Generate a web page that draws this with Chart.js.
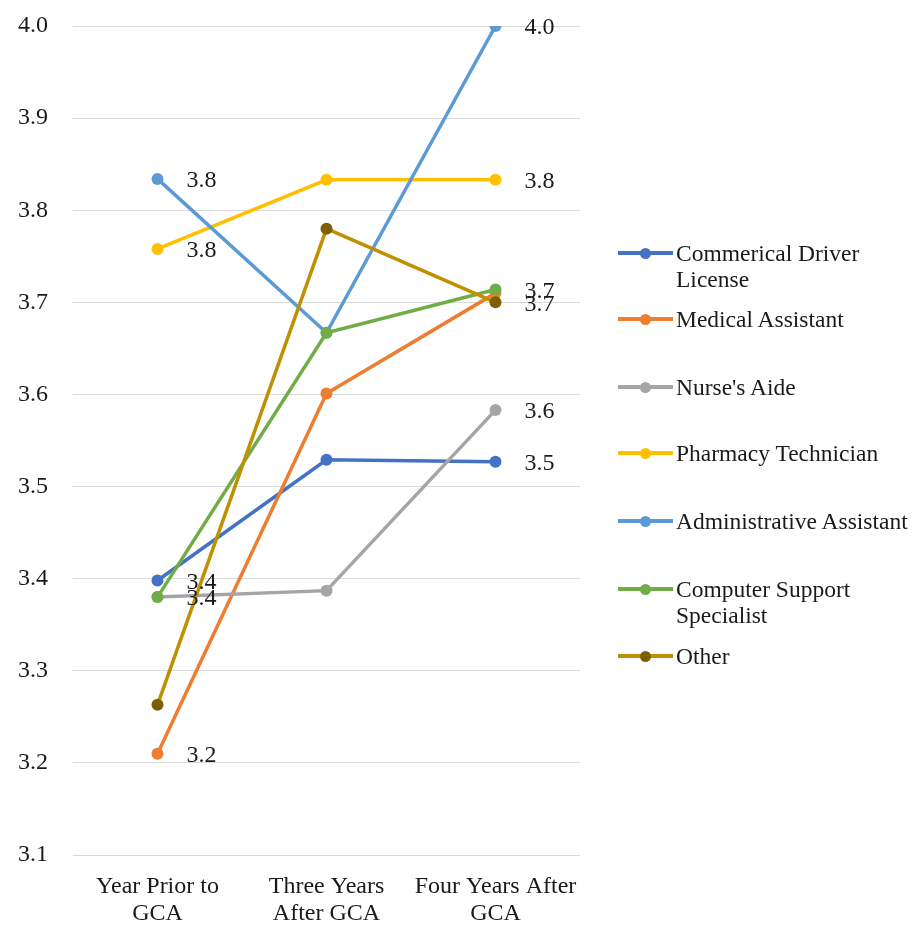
<!DOCTYPE html>
<html>
<head>
<meta charset="utf-8">
<script src="https://cdn.jsdelivr.net/npm/chart.js@4"></script>
<style>
  html, body { margin: 0; padding: 0; background: #fff; }
  #wrap { position: relative; width: 914px; height: 930px; }
  #legend { position: absolute; left: 618px; top: 0; font-family: "Liberation Serif", "Times New Roman", serif; font-size: 23.5px; color: #1a1a1a; }
  .item { position: absolute; left: 0; white-space: nowrap; }
  .sw { position: absolute; left: 0; width: 55px; height: 4px; }
  .dot { position: absolute; left: 22px; width: 11px; height: 11px; border-radius: 50%; }
  .txt { position: absolute; left: 58px; line-height: 26px; }
</style>
</head>
<body>
<div id="wrap">
  <canvas id="c" width="914" height="930"></canvas>
  <div id="legend"></div>
</div>
<script>
const categories = [["Year Prior to", "GCA"], ["Three Years", "After GCA"], ["Four Years After", "GCA"]];
const seriesNames = ["Commerical Driver License", "Medical Assistant", "Nurse's Aide", "Pharmacy Technician", "Administrative Assistant", "Computer Support Specialist", "Other"];
const legendLines = [["Commerical Driver", "License"], ["Medical Assistant"], ["Nurse's Aide"], ["Pharmacy Technician"], ["Administrative Assistant"], ["Computer Support", "Specialist"], ["Other"]];
const cdl = [3.398, 3.529, 3.527];
const medical = [3.210, 3.601, 3.710];
const nurse = [3.380, 3.387, 3.583];
const pharmacy = [3.758, 3.833, 3.833];
const admin = [3.834, 3.667, 4.000];
const computer = [3.380, 3.667, 3.714];
const other = [3.263, 3.780, 3.700];
const seriesValues = [cdl, medical, nurse, pharmacy, admin, computer, other];
const labelShown = [
  [true, false, true],
  [true, false, false],
  [false, false, true],
  [true, false, true],
  [true, false, true],
  [true, false, true],
  [false, false, true]
];
const yTicks = [3.1, 3.2, 3.3, 3.4, 3.5, 3.6, 3.7, 3.8, 3.9, 4.0];

const lineColors = ["#4472C4", "#ED7D31", "#A5A5A5", "#FFC000", "#5B9BD5", "#70AD47", "#BF9000"];
const pointColors = ["#4472C4", "#ED7D31", "#A5A5A5", "#FFC000", "#5B9BD5", "#70AD47", "#7F6000"];
const FONT = '"Liberation Serif", "Times New Roman", serif';

const datasets = seriesValues.map((vals, i) => ({
  label: seriesNames[i],
  data: vals,
  borderColor: lineColors[i],
  backgroundColor: pointColors[i],
  pointBackgroundColor: pointColors[i],
  pointBorderColor: pointColors[i],
  borderWidth: 3.5,
  pointRadius: 6,
  pointBorderWidth: 0,
  tension: 0,
  order: seriesValues.length - 1 - i
}));

const valueLabels = {
  id: 'valueLabels',
  afterDatasetsDraw(chart) {
    const ctx = chart.ctx;
    ctx.save();
    ctx.font = '24px ' + FONT;
    ctx.fillStyle = '#1a1a1a';
    ctx.textAlign = 'left';
    ctx.textBaseline = 'middle';
    chart.data.datasets.forEach((ds, i) => {
      const meta = chart.getDatasetMeta(i);
      meta.data.forEach((pt, j) => {
        if (!labelShown[i][j]) return;
        ctx.fillText(ds.data[j].toFixed(1), pt.x + 29, pt.y + 2);
      });
    });
    ctx.restore();
  }
};

new Chart(document.getElementById('c'), {
  type: 'line',
  data: { labels: categories, datasets },
  options: {
    responsive: false,
    animation: false,
    layout: { padding: { top: 26, right: 334, bottom: 0, left: 0 } },
    plugins: { legend: { display: false }, tooltip: { enabled: false } },
    scales: {
      x: {
        offset: true,
        grid: { display: false },
        border: { display: false },
        ticks: { color: '#1a1a1a', font: { family: FONT, size: 24, lineHeight: 1.12 }, padding: 10, maxRotation: 0, autoSkip: false },
        afterFit(s) { s.height = 75; s.paddingLeft = 0; s.paddingRight = 0; }
      },
      y: {
        min: 3.1, max: 4.0,
        afterBuildTicks(s) { s.ticks = yTicks.map(v => ({ value: v })); },
        grid: { color: '#d9d9d9', lineWidth: 1, drawTicks: false },
        border: { display: false },
        ticks: { color: '#1a1a1a', font: { family: FONT, size: 24 }, padding: 25, callback: v => Number(v).toFixed(1) },
        afterFit(s) { s.width = 73; s.paddingTop = 0; s.paddingBottom = 0; }
      }
    }
  },
  plugins: [valueLabels]
});

const legendTops = [253, 319, 387, 453, 521, 589, 656];
const lg = document.getElementById('legend');
legendLines.forEach((lines, i) => {
  const y = legendTops[i];
  const item = document.createElement('div');
  item.className = 'item';
  item.style.top = (y - 13) + 'px';
  item.innerHTML =
    '<div class="sw" style="top:11px;background:' + lineColors[i] + '"></div>' +
    '<div class="dot" style="top:7.5px;background:' + pointColors[i] + '"></div>' +
    '<div class="txt" style="top:0">' + lines.join('<br>') + '</div>';
  lg.appendChild(item);
});
</script>
</body>
</html>
